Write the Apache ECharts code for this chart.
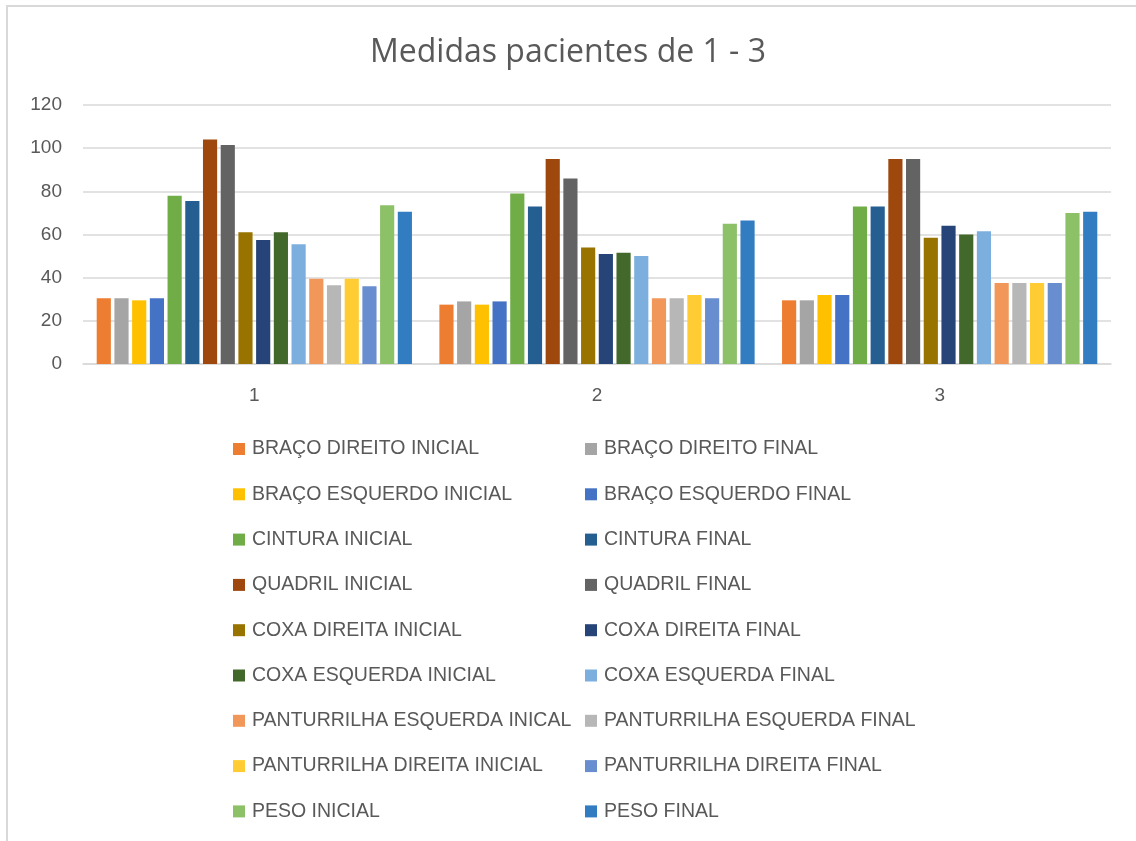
<!DOCTYPE html>
<html>
<head>
<meta charset="utf-8">
<script src="https://cdn.jsdelivr.net/npm/echarts@6/dist/echarts.min.js"></script>
<style>
    html, body { margin: 0; padding: 0; background: #fff; }
    #chart { width: 1136px; height: 841px; }
</style>
</head>
<body>
<div id="chart"></div>
<script>
// categorias (pacientes)
const categories = ['1', '2', '3'];

const seriesNames = [
    'BRAÇO DIREITO INICIAL', 'BRAÇO DIREITO FINAL',
    'BRAÇO ESQUERDO INICIAL', 'BRAÇO ESQUERDO FINAL',
    'CINTURA INICIAL', 'CINTURA FINAL',
    'QUADRIL INICIAL', 'QUADRIL FINAL',
    'COXA DIREITA INICIAL', 'COXA DIREITA FINAL',
    'COXA ESQUERDA INICIAL', 'COXA ESQUERDA FINAL',
    'PANTURRILHA ESQUERDA INICAL', 'PANTURRILHA ESQUERDA FINAL',
    'PANTURRILHA DIREITA INICIAL', 'PANTURRILHA DIREITA FINAL',
    'PESO INICIAL', 'PESO FINAL'
];

const bracoDireitoInicial = [30.5, 27.5, 29.5];
const bracoDireitoFinal = [30.5, 29, 29.5];
const bracoEsquerdoInicial = [29.5, 27.5, 32];
const bracoEsquerdoFinal = [30.5, 29, 32];
const cinturaInicial = [78, 79, 73];
const cinturaFinal = [75.5, 73, 73];
const quadrilInicial = [104, 95, 95];
const quadrilFinal = [101.5, 86, 95];
const coxaDireitaInicial = [61, 54, 58.5];
const coxaDireitaFinal = [57.5, 51, 64];
const coxaEsquerdaInicial = [61, 51.5, 60];
const coxaEsquerdaFinal = [55.5, 50, 61.5];
const panturrilhaEsquerdaInicial = [39.5, 30.5, 37.5];
const panturrilhaEsquerdaFinal = [36.5, 30.5, 37.5];
const panturrilhaDireitaInicial = [39.5, 32, 37.5];
const panturrilhaDireitaFinal = [36, 30.5, 37.5];
const pesoInicial = [73.5, 65, 70];
const pesoFinal = [70.5, 66.5, 70.5];

const yTicks = { min: 0, max: 120, interval: 20 };

const allValues = [
    bracoDireitoInicial, bracoDireitoFinal,
    bracoEsquerdoInicial, bracoEsquerdoFinal,
    cinturaInicial, cinturaFinal,
    quadrilInicial, quadrilFinal,
    coxaDireitaInicial, coxaDireitaFinal,
    coxaEsquerdaInicial, coxaEsquerdaFinal,
    panturrilhaEsquerdaInicial, panturrilhaEsquerdaFinal,
    panturrilhaDireitaInicial, panturrilhaDireitaFinal,
    pesoInicial, pesoFinal
];

const colors = [
    '#ED7D31', '#A5A5A5', '#FFC000', '#4472C4', '#70AD47', '#255E91',
    '#9E480E', '#636363', '#997300', '#264478', '#43682B', '#7CAFDD',
    '#F1975A', '#B7B7B7', '#FFCD33', '#698ED0', '#8CC168', '#327DC2'
];

const fontFam = '"Liberation Sans", sans-serif';
const textGray = '#595959';

let series = [];
for (let i = 0; i < seriesNames.length; i++) {
    series.push({
        name: seriesNames[i],
        type: 'bar',
        barGap: '25%',
        barCategoryGap: '8%',
        itemStyle: { color: colors[i] },
        data: allValues[i]
    });
}

const legendBase = {
    orient: 'vertical',
    itemWidth: 12,
    itemHeight: 12,
    itemGap: 25.3,
    icon: 'rect',
    textStyle: {
        color: textGray,
        fontSize: 19.5,
        fontFamily: fontFam,
        lineHeight: 20,
        padding: [0, 0, 0, 2]
    },
    selectedMode: false
};

let option = {
    animation: false,
    color: colors,
    title: {
        text: 'Medidas pacientes de 1 - 3',
        left: 'center',
        top: 32,
        textStyle: {
            color: textGray,
            fontSize: 32,
            fontWeight: 'normal',
            fontFamily: '"Open Sans", sans-serif'
        }
    },
    graphic: [{
        type: 'rect',
        shape: { x: 7, y: 6, width: 1300, height: 1000 },
        style: { fill: 'none', stroke: '#d9d9d9', lineWidth: 2 },
        silent: true
    }],
    legend: [
        Object.assign({}, legendBase, {
            left: 233,
            top: 439,
            padding: 0,
            data: seriesNames.filter((n, i) => i % 2 === 0)
        }),
        Object.assign({}, legendBase, {
            left: 585,
            top: 439,
            padding: 0,
            data: seriesNames.filter((n, i) => i % 2 === 1)
        })
    ],
    grid: {
        left: 83,
        right: 25,
        top: 105,
        bottom: 477,
        containLabel: false
    },
    xAxis: {
        type: 'category',
        data: categories,
        axisLine: { lineStyle: { color: '#d9d9d9', width: 1.5 } },
        axisTick: { show: false },
        axisLabel: {
            color: textGray,
            fontSize: 19,
            fontFamily: fontFam,
            margin: 22
        }
    },
    yAxis: {
        type: 'value',
        min: yTicks.min,
        max: yTicks.max,
        interval: yTicks.interval,
        axisLine: { show: false },
        axisTick: { show: false },
        axisLabel: {
            color: textGray,
            fontSize: 19,
            fontFamily: fontFam,
            margin: 21
        },
        splitLine: { lineStyle: { color: '#d9d9d9', width: 1.5 } }
    },
    series: series
};

let myChart = echarts.init(document.getElementById('chart'));
myChart.setOption(option);
</script>
</body>
</html>
